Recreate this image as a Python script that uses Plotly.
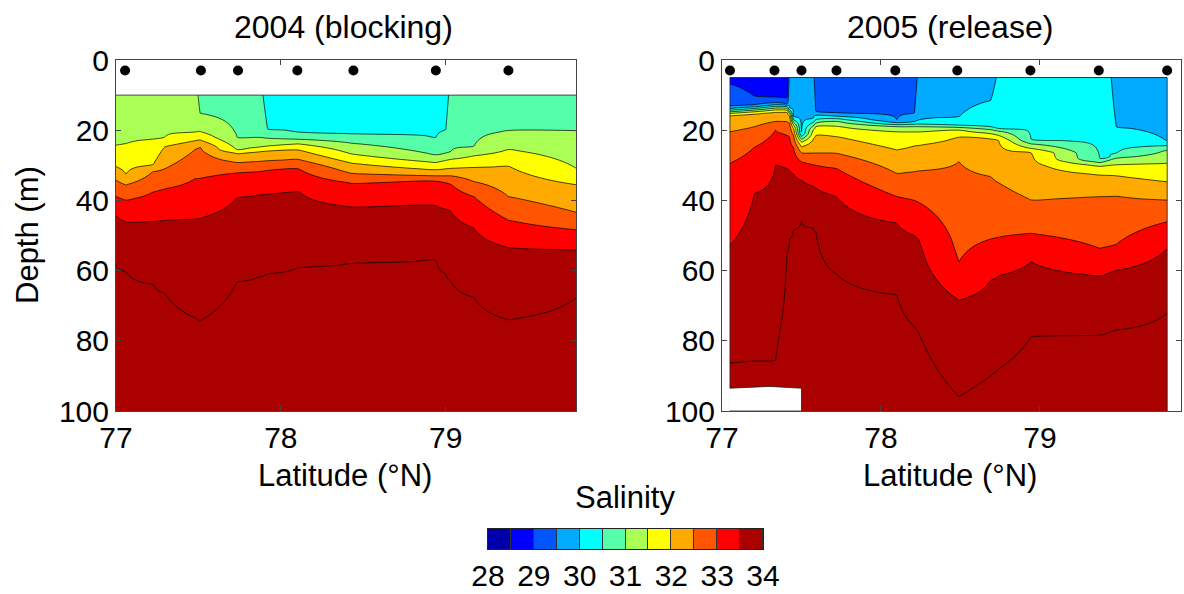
import numpy as np
import plotly.graph_objects as go

# ---------------- data ----------------
# 2004: isohaline depths (m) at section columns; 0 = outcrops above shallowest sample, 120 = not reached
lat04 = [77.00, 77.06, 77.225, 77.295, 77.48, 77.51, 77.735, 77.865, 77.92, 78.105, 78.43, 78.94, 79.00, 79.03, 79.17, 79.38, 79.80]
levels04 = [30.0, 30.5, 31.0, 31.5, 32.0, 32.5, 33.0, 33.5, 34.0, 34.5]
iso04_300 = [0, 0, 0, 0, 0, 0, 0, 0, 0, 0, 0, 0, 0, 0, 0, 0, 0]
iso04_305 = [0, 0, 0, 0, 0, 0, 0, 0, 19.9, 20.6, 21.1, 22.1, 19.9, 0, 0, 0, 0]
iso04_310 = [0, 0, 0, 0, 0, 15.2, 22.0, 22.2, 22.3, 22.6, 23.7, 27.1, 26.5, 26.2, 24.7, 20.2, 20.2]
iso04_315 = [24.4, 23.9, 22.6, 22.0, 20.6, 20.4, 25.6, 24.9, 24.5, 23.9, 26.8, 29.2, 28.6, 28.3, 27.3, 25.5, 31.1]
iso04_320 = [30.4, 32.5, 29.9, 24.7, 23.0, 22.8, 26.6, 26.1, 25.9, 25.6, 29.4, 31.3, 31.0, 30.9, 30.6, 30.2, 35.6]
iso04_325 = [34.2, 35.6, 31.7, 31.0, 25.5, 24.7, 29.2, 28.9, 28.7, 28.3, 32.3, 33.0, 33.0, 33.0, 34.6, 38.9, 43.5]
iso04_330 = [38.9, 39.9, 37.6, 36.7, 33.8, 33.7, 32.1, 31.7, 31.4, 30.9, 35.1, 34.3, 35.0, 35.3, 38.9, 45.6, 48.4]
iso04_335 = [44.2, 46.1, 46.0, 45.6, 45.2, 45.1, 39.1, 38.5, 38.1, 37.3, 41.8, 41.5, 42.5, 43.0, 47.8, 53.4, 54.1]
iso04_340 = [57.9, 60.3, 64.0, 66.4, 73.5, 74.3, 63.2, 61.8, 61.0, 59.1, 57.9, 56.8, 61.0, 63.0, 67.6, 74.0, 67.4]
iso04_345 = [120, 120, 120, 120, 120, 120, 120, 120, 120, 120, 120, 120, 120, 120, 120, 120, 120]
top04 = 10.0

# 2005
lat05 = [77.05, 77.205, 77.337, 77.38, 77.41, 77.425, 77.45, 77.50, 77.575, 77.59, 77.72, 78.10, 78.21, 78.235,
         78.49, 78.69, 78.74, 78.945, 79.378, 79.44, 79.48, 79.80]
levels05 = [28.0, 28.5, 29.0, 29.5, 30.0, 30.5, 31.0, 31.5, 32.0, 32.5, 33.0, 33.5, 34.0, 34.5]
iso05_280 = [0] * 22
iso05_285 = [0] * 22
iso05_290 = [6.8, 10.4, 10.7, 10.9, 10.9, 0, 0, 0, 0, 0, 0, 0, 0, 0, 0, 0, 0, 0, 0, 0, 0, 0]
iso05_295 = [13.3, 12.9, 12.3, 12.4, 12.5, 0, 0, 0, 0, 14.5, 15.2, 17.1, 15.2, 0, 0, 0, 0, 0, 0, 0, 0, 0]
iso05_300 = [13.8, 13.3, 12.7, 12.8, 12.9, 13.5, 16.0, 20.9, 16.6, 15.8, 16.0, 17.9, 17.5, 17.3, 16.3, 11.5, 0, 0, 0, 0, 19.0, 23.3]
iso05_305 = [14.3, 13.8, 13.2, 13.2, 13.3, 14.2, 17.0, 21.8, 17.8, 17.0, 16.7, 18.4, 18.3, 18.3, 18.6, 19.0, 19.5, 22.8, 28.3, 27.5, 26.5, 24.4]
iso05_310 = [14.8, 14.3, 13.7, 13.7, 13.8, 14.8, 17.8, 22.6, 18.8, 18.0, 17.5, 19.0, 19.0, 19.0, 19.2, 19.8, 20.2, 23.9, 29.2, 28.5, 28.0, 25.6]
iso05_315 = [15.2, 14.7, 14.2, 14.2, 14.3, 15.4, 18.5, 23.3, 19.8, 19.0, 18.8, 20.4, 20.5, 20.5, 19.9, 21.0, 21.5, 25.2, 30.2, 30.0, 29.8, 29.4]
iso05_320 = [15.7, 15.3, 14.8, 14.8, 14.9, 16.0, 19.5, 24.7, 22.5, 21.5, 21.8, 25.6, 24.5, 24.3, 21.8, 22.5, 23.0, 26.4, 32.7, 32.8, 33.0, 34.7]
iso05_325 = [20.4, 19.0, 17.5, 17.5, 17.6, 18.0, 21.5, 26.4, 26.5, 26.5, 26.6, 32.3, 31.8, 31.6, 29.0, 33.2, 35.0, 39.9, 38.9, 38.8, 38.7, 39.9]
iso05_330 = [29.4, 24.8, 20.0, 21.0, 21.5, 22.0, 25.0, 29.0, 29.8, 30.0, 30.9, 38.9, 40.0, 40.5, 57.5, 51.0, 50.5, 49.4, 53.7, 53.0, 52.5, 46.1]
iso05_335 = [52.7, 38.0, 30.0, 30.5, 31.0, 31.5, 32.5, 34.2, 36.0, 36.5, 38.9, 46.5, 50.0, 51.0, 68.4, 62.7, 61.5, 57.5, 61.5, 60.5, 60.0, 53.7]
iso05_340 = [86.3, 85.8, 85.5, 73.0, 55.0, 51.0, 48.4, 46.0, 48.0, 49.0, 61.0, 67.0, 76.0, 77.5, 95.9, 90.0, 88.0, 78.8, 78.3, 77.5, 77.0, 72.0]
iso05_345 = [120] * 22
top05 = 5.0

# seabed where shallower than 100 m (2005 section)
bottom_lat05 = [77.05, 77.30, 77.50]
bottom_depth05 = [93.5, 93.0, 93.5]

# CTD stations
sta04 = [77.055, 77.515, 77.74, 78.10, 78.44, 78.94, 79.38]
sta05 = [77.05, 77.33, 77.50, 77.72, 78.09, 78.48, 78.94, 79.37, 79.80]
sta_depth = 3

cbar_ticks = [28, 29, 30, 31, 32, 33, 34]
jet12 = ['#0000AA', '#0000FF', '#0055FF', '#00AAFF', '#00FFFF', '#55FFAA',
         '#AAFF55', '#FFFF00', '#FFAA00', '#FF5500', '#FF0000', '#AA0000']

# ---------------- build grids ----------------
def build_grid(levels, iso, top):
    arr = np.array(iso, dtype=float)
    ygrid = np.arange(top, 100.0001, 0.5)
    z = np.empty((len(ygrid), arr.shape[1]))
    for j in range(arr.shape[1]):
        d = np.maximum.accumulate(arr[:, j]) + np.arange(arr.shape[0]) * 1e-6
        z[:, j] = np.interp(ygrid, d, levels)
    return ygrid, z

y04, z04 = build_grid(levels04, [iso04_300, iso04_305, iso04_310, iso04_315, iso04_320, iso04_325,
                                 iso04_330, iso04_335, iso04_340, iso04_345], top04)
y05, z05 = build_grid(levels05, [iso05_280, iso05_285, iso05_290, iso05_295, iso05_300, iso05_305,
                                 iso05_310, iso05_315, iso05_320, iso05_325, iso05_330, iso05_335,
                                 iso05_340, iso05_345], top05)

# step colorscale matching plotly's contour fill mapping (band k centred at (k+1)/13)
n = 13.0
cs = [[0.0, jet12[0]]]
for k in range(12):
    cs.append([(k + 0.5) / n, jet12[k]])
    cs.append([min((k + 1.5) / n, 1.0), jet12[k]])
cs.append([1.0, jet12[11]])

contours = dict(start=28, end=34, size=0.5, coloring='fill', showlines=True)

FONT = 'Liberation Sans, Arial, sans-serif'

fig = go.Figure()
fig.add_trace(go.Contour(x=lat04, y=y04, z=z04, contours=contours, colorscale=cs,
                         line=dict(color='black', width=0.7), showscale=False,
                         hoverinfo='skip', xaxis='x', yaxis='y'))
fig.add_trace(go.Contour(x=lat05, y=y05, z=z05, contours=contours, colorscale=cs,
                         line=dict(color='black', width=0.7), showscale=False,
                         hoverinfo='skip', xaxis='x2', yaxis='y2'))
# seabed mask
fig.add_trace(go.Scatter(x=bottom_lat05 + [bottom_lat05[-1], bottom_lat05[0]],
                         y=bottom_depth05 + [100, 100], fill='toself', fillcolor='white',
                         mode='lines', line=dict(color='#222', width=0.8),
                         xaxis='x2', yaxis='y2', hoverinfo='skip', showlegend=False))
# outline of the sampled region
fig.add_trace(go.Scatter(x=[lat04[0], lat04[-1]], y=[top04, top04], mode='lines',
                         line=dict(color='#222', width=0.8), xaxis='x', yaxis='y',
                         hoverinfo='skip', showlegend=False))
fig.add_trace(go.Scatter(x=[lat05[0], lat05[0], lat05[-1], lat05[-1]],
                         y=[bottom_depth05[0], top05, top05, 100], mode='lines',
                         line=dict(color='#222', width=0.8), xaxis='x2', yaxis='y2',
                         hoverinfo='skip', showlegend=False))
# stations
fig.add_trace(go.Scatter(x=sta04, y=[sta_depth] * len(sta04), mode='markers',
                         marker=dict(color='black', size=10), xaxis='x', yaxis='y',
                         showlegend=False, hoverinfo='skip'))
fig.add_trace(go.Scatter(x=sta05, y=[sta_depth] * len(sta05), mode='markers',
                         marker=dict(color='black', size=10), xaxis='x2', yaxis='y2',
                         showlegend=False, hoverinfo='skip'))

# colour bar as heatmap
cb_centres = [28.25 + 0.5 * k for k in range(12)]
cb_cs = []
for k in range(12):
    cb_cs.append([k / 12.0, jet12[k]])
    cb_cs.append([(k + 1) / 12.0, jet12[k]])
fig.add_trace(go.Heatmap(x=cb_centres, y=[0], z=[list(range(12))], colorscale=cb_cs,
                         zmin=-0.5, zmax=11.5, showscale=False, xgap=1,
                         xaxis='x3', yaxis='y3', hoverinfo='skip'))
fig.add_shape(type='rect', xref='x3', yref='y3', x0=28, x1=34, y0=-0.5, y1=0.5,
              fillcolor='#333', line=dict(width=0), layer='below')

W, H = 1184, 594
def px(x):
    return x / W
def py(y):
    return 1 - y / H

axis_common = dict(showline=True, mirror='ticks', linecolor='#444', linewidth=1,
                   ticks='inside', ticklen=5, tickcolor='#444', showgrid=False, zeroline=False,
                   automargin=False, tickfont=dict(family=FONT, size=30, color='black'))

fig.update_layout(
    width=W, height=H, margin=dict(l=0, r=0, t=0, b=0, autoexpand=False),
    paper_bgcolor='white', plot_bgcolor='white', showlegend=False,
    xaxis=dict(domain=[px(116), px(576)], range=[77, 79.79], tickvals=[77, 78, 79],
               anchor='y', ticklabelstandoff=0, **axis_common),
    yaxis=dict(domain=[py(411), py(60)], range=[100, 0], tickvals=[0, 20, 40, 60, 80, 100],
               anchor='x', ticklabelstandoff=0, **axis_common),
    xaxis2=dict(domain=[px(722), px(1181)], range=[77, 79.887], tickvals=[77, 78, 79],
                anchor='y2', ticklabelstandoff=0, **axis_common),
    yaxis2=dict(domain=[py(411), py(60)], range=[100, 0], tickvals=[0, 20, 40, 60, 80, 100],
                anchor='x2', ticklabelstandoff=0, **axis_common),
    xaxis3=dict(domain=[px(488), px(763)], range=[28, 34], tickvals=cbar_ticks, anchor='y3',
                showline=True, mirror=True, linecolor='#222', linewidth=1, ticks='',
                showgrid=False, zeroline=False, ticklabelstandoff=0, automargin=False,
                tickfont=dict(family=FONT, size=30, color='black')),
    yaxis3=dict(domain=[py(549), py(529)], range=[-0.5, 0.5], anchor='x3', showline=True,
                mirror=True, linecolor='#222', linewidth=1, showticklabels=False, ticks='',
                showgrid=False, zeroline=False, automargin=False),
)

ann_font = dict(family=FONT, size=31, color='black')
annotations = [
    dict(text='2004 (blocking)', x=px(343), y=py(27), font=dict(family=FONT, size=32, color='black')),
    dict(text='2005 (release)', x=px(950), y=py(27), font=dict(family=FONT, size=32, color='black')),
    dict(text='Latitude (°N)', x=px(345), y=py(475), font=ann_font),
    dict(text='Latitude (°N)', x=px(950), y=py(475), font=ann_font),
    dict(text='Depth (m)', x=px(28), y=py(235), font=ann_font, textangle=-90),
    dict(text='Salinity', x=px(625), y=py(497), font=ann_font),
]
for a in annotations:
    a.update(xref='paper', yref='paper', showarrow=False, xanchor='center', yanchor='middle')
fig.update_layout(annotations=annotations)

fig.write_html('out.html')
